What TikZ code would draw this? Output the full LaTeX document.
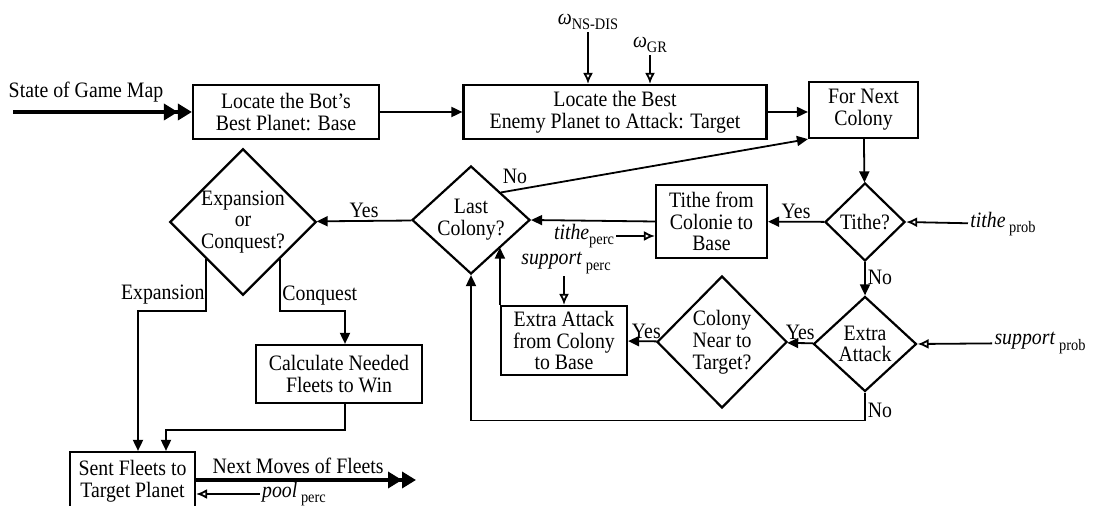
\documentclass[tikz,border=0pt]{standalone}
\usepackage{fontspec}
\setmainfont{Liberation Serif}[FakeStretch=0.9]
\usetikzlibrary{arrows.meta, shapes.geometric}

\newcommand{\lowsub}[1]{\raisebox{-0.55ex}{\footnotesize #1}}

\tikzset{
  box/.style={draw, line width=1.1pt, align=center, inner sep=0pt},
  decision/.style={diamond, draw, line width=1.1pt, align=center, inner sep=0pt},
  flow/.style={line width=0.9pt, -{Triangle[length=5.5pt,width=5pt]}},
  param/.style={line width=0.9pt, -{Latex[open,length=5.5pt,width=5pt]}},
  bigflow/.style={line width=2.2pt, -{Triangle[length=7pt,width=8pt]Triangle[length=7pt,width=8pt]}},
  lbl/.style={inner sep=1pt}
}

\begin{document}
\begin{tikzpicture}[x=0.5pt, y=-0.5pt, font=\fontsize{11}{10.9}\selectfont]
\useasboundingbox (0,0) rectangle (1107,506);

% top row
\node[lbl] (maptxt) at (86,92) {State of Game Map};
\coordinate (mapin) at (13,112);
\node[box, minimum width=93pt, minimum height=27pt] (base) at (286,112) {Locate the Bot's\\Best Planet: Base};
\node[box, minimum width=151.5pt, minimum height=27pt] (target) at (615,112) {Locate the Best\\Enemy Planet to Attack: Target};
\node[box, minimum width=54.5pt, minimum height=28pt] (next) at (863.5,110) {For Next\\Colony};
\node[lbl] (wns) at (588,22) {\textit{ω}\lowsub{NS-DIS}};
\node[lbl] (wgr) at (650,45) {\textit{ω}\lowsub{GR}};

% middle row
\node[decision, minimum width=40pt, minimum height=39pt] (tithe) at (865,222) {Tithe?};
\node[box, minimum width=55.5pt, minimum height=36.5pt] (tithebox) at (711.5,221.5) {Tithe from\\Colonie to\\Base};
\node[decision, minimum width=59pt, minimum height=52pt] (last) at (471,220) {Last\\Colony?};
\node[decision, minimum width=68pt, minimum height=72pt] (expcon) at (243,222) {Expansion\\or\\Conquest?};
\node[lbl] (tprob) at (1003,224) {\textit{tithe}\,\lowsub{prob}};
\node[lbl] (tperc) at (584,236) {\textit{tithe}\lowsub{perc}};
\node[lbl] (sperc) at (566,263) {\textit{support}\,\lowsub{perc}};

% lower row
\node[decision, minimum width=51.5pt, minimum height=47.5pt] (extra) at (865,344) {Extra\\Attack};
\node[decision, minimum width=65pt, minimum height=66pt] (near) at (722,342) {Colony\\Near to\\Target?};
\node[box, minimum width=63pt, minimum height=34.5pt] (exbox) at (564,340.5) {Extra Attack\\from Colony\\to Base};
\node[lbl] (sprob) at (1040,343) {\textit{support}\,\lowsub{prob}};
\node[box, minimum width=83pt, minimum height=29pt] (calc) at (339,374) {Calculate Needed\\Fleets to Win};
\node[box, minimum width=62.5pt, minimum height=29pt] (sent) at (132.5,481) {Sent Fleets to\\Target Planet};
\coordinate (fleetout) at (416,480);
\node[lbl] (poolp) at (294,494) {\textit{pool}\,\lowsub{perc}};

% connectors
\draw[bigflow] (mapin) -- (base.west);
\draw[flow] (base) -- (target);
\draw[flow] (target.east) -- (target.east -| next.west);
\draw[param] (wns.south) -- (wns.south |- target.north);
\draw[param] (wgr.south) -- (wgr.south |- target.north);
\draw[flow] (next) -- (tithe);
\draw[flow] (tithe) -- node[lbl, above] {Yes} (tithebox);
\draw[param] (tprob) -- (tithe.east);
\draw[flow] (tithebox.west) -- (last.east);
\draw[param] (tperc.east) -- (tperc.east -| tithebox.west);
\draw[flow] (last.north east) -- (next.south west);
\node[lbl] at (515,176) {No};
\draw[flow] (last) -- node[lbl, above] {Yes} (expcon);
\draw[flow] (expcon.south west) -- ++(0,52) -| ([xshift=2.75pt]sent.north);
\node[lbl, anchor=east] at (207,295) {Expansion};
\draw[flow] (expcon.south east) -- ++(0,52) -| ([xshift=3pt]calc.north);
\node[lbl, anchor=west] at (280,296) {Conquest};
\draw[flow] ([xshift=3pt]calc.south) -- ++(0,26) -| ([xshift=16.75pt]sent.north);
\draw[bigflow] (sent.east |- fleetout) -- node[lbl, above=1pt, xshift=-4pt] {Next Moves of Fleets} (fleetout);
\draw[param] (poolp.west) -- (poolp.west -| sent.east);
\draw[flow] (tithe) -- node[lbl, right, pos=0.45] {No} (extra);
\draw[param] (sprob) -- (extra.east);
\draw[flow] (extra) -- node[lbl, above] {Yes} (near);
\draw[flow] (near) -- node[lbl, above, xshift=2pt] {Yes} (exbox);
\draw[param] (sperc.south -| exbox.north) -- (exbox.north);
\draw[flow] (exbox.north west) -- (exbox.north west |- last.south east);
\draw[flow] (extra.south) -- ++(0,28) node[lbl, above right] {No} -| (last.south);
\end{tikzpicture}
\end{document}
